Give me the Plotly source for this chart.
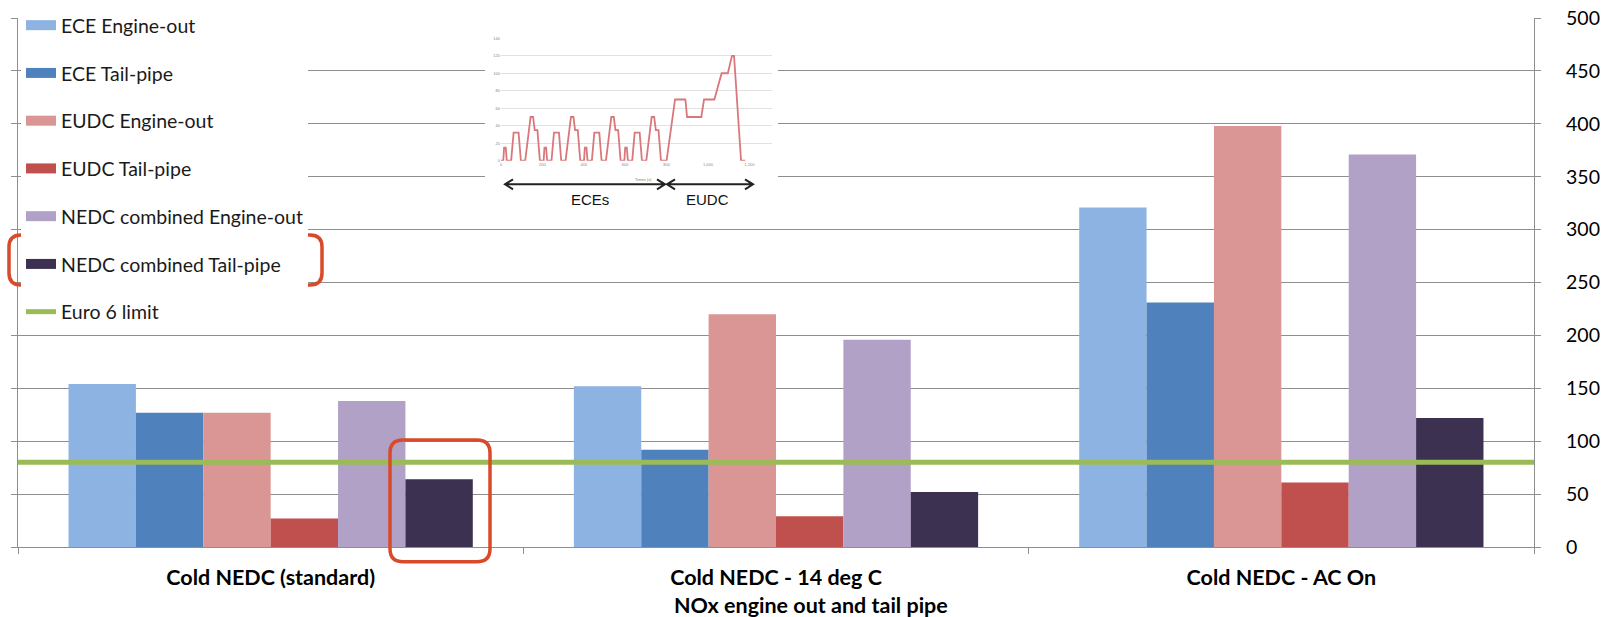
import plotly.graph_objects as go

# ---------------- data ----------------
categories = ["Cold NEDC (standard)", "Cold NEDC - 14 deg C", "Cold NEDC - AC On"]
series_names = ["ECE Engine-out", "ECE Tail-pipe", "EUDC Engine-out", "EUDC Tail-pipe",
                "NEDC combined Engine-out", "NEDC combined Tail-pipe"]
ece_engine_out = [154, 152, 321]
ece_tail_pipe = [127, 92, 231]
eudc_engine_out = [127, 220, 398]
eudc_tail_pipe = [27, 29, 61]
nedc_engine_out = [138, 196, 371]
nedc_tail_pipe = [64, 52, 122]
euro6_limit = 80
y_ticks = [0, 50, 100, 150, 200, 250, 300, 350, 400, 450, 500]
x_title = "NOx engine out and tail pipe"

# inset: NEDC speed profile
nedc_time = [0, 11, 15, 23, 28, 49, 61, 85, 96, 117, 143, 155, 163, 176, 188, 195,
             206, 210, 218, 223, 244, 256, 280, 291, 312, 338, 350, 358, 371, 383, 390,
             401, 405, 413, 418, 439, 451, 475, 486, 507, 533, 545, 553, 566, 578, 585,
             596, 600, 608, 613, 634, 646, 670, 681, 702, 728, 740, 748, 761, 773, 780,
             800, 841, 891, 899, 968, 981, 1031, 1066, 1096, 1116, 1126, 1160, 1180]
nedc_speed = [0, 0, 15, 15, 0, 0, 32, 32, 0, 0, 50, 50, 35, 35, 0, 0,
              0, 15, 15, 0, 0, 32, 32, 0, 0, 50, 50, 35, 35, 0, 0,
              0, 15, 15, 0, 0, 32, 32, 0, 0, 50, 50, 35, 35, 0, 0,
              0, 15, 15, 0, 0, 32, 32, 0, 0, 50, 50, 35, 35, 0, 0,
              0, 70, 70, 50, 50, 70, 70, 100, 100, 120, 120, 0, 0]
inset_x_ticks = [0, 200, 400, 600, 800, 1000, 1200]
inset_y_ticks = [0, 20, 40, 60, 80, 100, 120, 140]
inset_x_title = "Times (s)"
inset_labels = ["ECEs", "EUDC"]

# ---------------- styling ----------------
W, H = 1602, 617
ML, MR, MT, MB = 18, 68, 18, 70
L, R, T, B = ML, W - MR, MT, H - MB

def px(x):
    return (x - L) / (R - L)

def py(y):
    return (B - y) / (B - T)

colors = ["#8db3e2", "#4f81bd", "#d99694", "#c0504d", "#b2a1c7", "#3d3151"]
green = "#9bbb59"
grid = "#8e8e8e"
red = "#d94a2b"
FONT = "Lato"

series_values = [ece_engine_out, ece_tail_pipe, eudc_engine_out, eudc_tail_pipe,
                 nedc_engine_out, nedc_tail_pipe]

fig = go.Figure()

for i, (name, vals) in enumerate(zip(series_names, series_values)):
    fig.add_trace(go.Bar(x=categories, y=vals, name=name, marker=dict(color=colors[i], line=dict(width=0)),
                         showlegend=False, legendgroup=f"g{i}"))

# legend proxies (wide swatches)
for i, name in enumerate(series_names):
    fig.add_trace(go.Scatter(x=[None], y=[None], mode="lines", name=name, xaxis="x2", yaxis="y",
                             line=dict(color=colors[i], width=10), legendgroup=f"g{i}"))

fig.add_trace(go.Scatter(x=[0, 1], y=[euro6_limit, euro6_limit], mode="lines", name="Euro 6 limit",
                         xaxis="x2", yaxis="y", line=dict(color=green, width=5), legendgroup="g6"))

# white box behind inset
box = (485, 24, 778, 222)
fig.add_trace(go.Scatter(x=[0], y=[0], mode="markers", marker=dict(opacity=0), xaxis="x3", yaxis="y3",
                         showlegend=False, hoverinfo="skip"))

# inset line chart
ins = (501, 38.3, 771.7, 160.7)
fig.add_trace(go.Scatter(x=nedc_time, y=nedc_speed, mode="lines", xaxis="x4", yaxis="y4",
                         line=dict(color="#d9787c", width=1.8), showlegend=False))

axis_common = dict(showline=True, linecolor=grid, linewidth=1.3, ticks="outside", ticklen=6,
                   tickcolor=grid, tickwidth=1.3, zeroline=False)

fig.update_layout(
    width=W, height=H, margin=dict(l=ML, r=MR, t=MT, b=MB, autoexpand=False),
    paper_bgcolor="white", plot_bgcolor="white",
    barmode="group", bargap=0.2, bargroupgap=0,
    font=dict(family=FONT, color="#000"),
    xaxis=dict(type="category", tickson="boundaries", showgrid=False,
               tickfont=dict(family=FONT, size=21.5, weight="bold", color="#000"),
               ticklabelstandoff=11, **axis_common),
    yaxis=dict(range=[0, 500], tickvals=y_ticks, side="right", mirror="ticks",
               showgrid=True, gridcolor=grid, gridwidth=1.3,
               tickfont=dict(family=FONT, size=19.5, color="#000"), ticklabelstandoff=21,
               **axis_common),
    xaxis2=dict(overlaying="x", range=[0, 1], visible=False),
    xaxis3=dict(domain=[px(box[0]), px(box[2])], anchor="y3", visible=False, range=[0, 1]),
    yaxis3=dict(domain=[py(box[3]), py(box[1])], anchor="x3", visible=False, range=[0, 1]),
    xaxis4=dict(domain=[px(ins[0]), px(ins[2])], anchor="y4", range=[0, 1308], showgrid=False,
                zeroline=False, showline=False, tickvals=inset_x_ticks, tickformat=",",
                tickfont=dict(family="Liberation Sans", size=4, color="#888"), ticks=""),
    yaxis4=dict(domain=[py(ins[3]), py(ins[1])], anchor="x4", range=[0, 140], tickvals=inset_y_ticks,
                showgrid=True, gridcolor="#e2e2e2", gridwidth=1, zeroline=False, showline=False,
                tickfont=dict(family="Liberation Sans", size=4, color="#888"), ticks=""),
    legend=dict(x=px(21), y=py(6), xanchor="left", yanchor="top", bgcolor="white", borderwidth=0,
                traceorder="grouped", tracegroupgap=19.4, maxheight=600, entrywidth=258,
                font=dict(family=FONT, size=19.5, color="#1a1a1a")),
    showlegend=True,
)

def rrect(x0, y0, x1, y1, r):
    pts = [("M", x0 + r, y0), ("L", x1 - r, y0), ("Q", x1, y0, x1, y0 + r), ("L", x1, y1 - r),
           ("Q", x1, y1, x1 - r, y1), ("L", x0 + r, y1), ("Q", x0, y1, x0, y1 - r), ("L", x0, y0 + r),
           ("Q", x0, y0, x0 + r, y0)]
    s = ""
    for p in pts:
        cmd = p[0]
        coords = p[1:]
        parts = []
        for j in range(0, len(coords), 2):
            parts.append(f"{px(coords[j]):.5f},{py(coords[j+1]):.5f}")
        s += cmd + " ".join(parts) + " "
    return s + "Z"

shapes = []
shapes.append(dict(type="path", xref="paper", yref="paper", path=rrect(9, 235, 322, 285, 12),
                   line=dict(color=red, width=3.5)))
shapes.append(dict(type="path", xref="paper", yref="paper", path=rrect(390, 440, 490, 561.7, 13),
                   line=dict(color=red, width=3.5)))

def arrow(xa, xb, y, h=8, v=5):
    return (f"M{px(xa + h):.5f},{py(y - v):.5f} L{px(xa):.5f},{py(y):.5f} L{px(xa + h):.5f},{py(y + v):.5f} "
            f"M{px(xa):.5f},{py(y):.5f} L{px(xb):.5f},{py(y):.5f} "
            f"M{px(xb - h):.5f},{py(y - v):.5f} L{px(xb):.5f},{py(y):.5f} L{px(xb - h):.5f},{py(y + v):.5f}")

shapes.append(dict(type="path", xref="paper", yref="paper", path=arrow(505, 665, 184.3),
                   line=dict(color="#222", width=2)))
shapes.append(dict(type="path", xref="paper", yref="paper", path=arrow(667, 753, 184.3),
                   line=dict(color="#222", width=2)))
fig.update_layout(shapes=shapes)

annotations = [
    dict(text=x_title, x=px(811), y=py(605), xref="paper", yref="paper", showarrow=False,
         xanchor="center", yanchor="middle", font=dict(family=FONT, size=21.5, weight="bold", color="#000")),
    dict(text=inset_x_title, x=px(643), y=py(175), xref="paper", yref="paper", showarrow=False,
         font=dict(family="Liberation Sans", size=4, color="#777")),
    dict(text=inset_labels[0], x=px(590), y=py(199.3), xref="paper", yref="paper", showarrow=False,
         font=dict(family="Liberation Sans", size=15, color="#111")),
    dict(text=inset_labels[1], x=px(707), y=py(199.3), xref="paper", yref="paper", showarrow=False,
         font=dict(family="Liberation Sans", size=15, color="#111")),
]
fig.update_layout(annotations=annotations)

fig.write_html("out.html")
